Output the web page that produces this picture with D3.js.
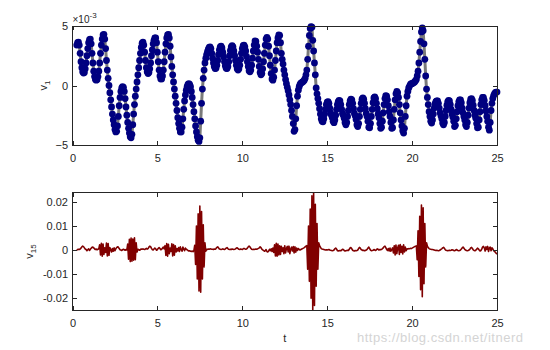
<!DOCTYPE html>
<html>
<head>
<meta charset="utf-8">
<script src="https://cdn.jsdelivr.net/npm/d3@7"></script>
<style>
  body { margin: 0; background: #fff; }
  svg { display: block; }
  text { font-family: "Liberation Sans", Arial, Helvetica, sans-serif; }
</style>
</head>
<body>
<svg id="chart" width="550" height="350"></svg>
<script>
// Sampling grid of the simulation output
const tStart = 0.25;
const tStep = 0.05;

// Tick values
const xTicks = [0, 5, 10, 15, 20, 25];
const v1Ticks = [-5, 0, 5];                 // in units of 10^-3
const v15Ticks = [-20, -10, 0, 10, 20];     // in units of 10^-3

// Node 1 response, units of 10^-3 (one row per unit of t)
const v1 = [
  3.4,3.6,3.65,3.4,2.7,2.0,1.5,1.15,1.05,1.1,1.4,1.9,2.5,3.1,3.6,3.85,3.9,3.5,2.7,1.9,
  1.2,0.75,0.5,0.45,0.5,0.75,1.2,1.9,2.7,3.4,3.9,4.25,4.3,3.9,3.1,2.1,1.3,0.6,0.0,-0.6,
  -1.2,-1.8,-2.4,-2.9,-3.3,-3.7,-3.9,-3.85,-3.4,-2.6,-1.7,-1.0,-0.5,-0.2,-0.1,-0.15,-0.5,-1.1,-1.8,-2.5,
  -3.1,-3.6,-4.0,-4.3,-4.4,-4.1,-3.3,-2.4,-1.6,-0.9,-0.3,0.3,0.9,1.5,2.1,2.7,3.2,3.55,3.65,3.4,
  2.8,2.1,1.5,1.15,1.0,1.1,1.4,1.9,2.5,3.0,3.5,3.8,4.0,4.0,3.6,2.8,2.0,1.3,0.8,0.55,
  0.55,0.8,1.3,2.0,2.8,3.5,4.0,4.25,4.3,4.0,3.3,2.4,1.6,0.9,0.3,-0.3,-0.9,-1.5,-2.1,-2.7,
  -3.2,-3.6,-3.9,-3.9,-3.5,-2.8,-2.0,-1.3,-0.8,-0.4,-0.1,0.1,0.15,0.1,-0.1,-0.5,-1.0,-1.6,-2.2,-2.8,
  -3.4,-3.9,-4.3,-4.6,-4.7,-4.4,-3.0,-1.5,-0.3,0.6,1.3,1.9,2.3,2.6,2.85,3.05,3.2,3.25,3.1,2.7,
  2.3,1.9,1.6,1.42,1.45,1.7,2.1,2.6,3.0,3.25,3.3,3.15,2.8,2.4,2.0,1.65,1.45,1.42,1.6,2.0,
  2.5,2.95,3.25,3.35,3.25,2.9,2.5,2.1,1.7,1.4,1.3,1.4,1.7,2.2,2.7,3.1,3.35,3.4,3.25,2.9,
  2.45,2.0,1.6,1.25,1.15,1.3,1.7,2.3,2.9,3.4,3.75,3.7,3.3,2.8,2.2,1.6,1.1,0.9,1.0,1.4,
  2.0,2.7,3.4,3.9,4.05,3.9,3.3,2.5,1.7,1.0,0.55,0.45,0.7,1.3,2.1,2.9,3.6,4.0,4.25,4.2,
  3.6,2.7,2.2,1.8,1.3,0.9,0.5,0.15,-0.15,-0.45,-0.8,-1.2,-1.6,-2.1,-2.6,-3.2,-3.85,-3.7,-2.8,-1.7,
  -0.9,-0.4,-0.1,0.1,0.2,0.25,0.3,0.35,0.45,0.6,0.9,1.3,2.2,3.3,4.2,4.8,4.95,4.9,3.8,2.9,
  1.9,0.9,-0.2,-0.7,-1.1,-1.5,-1.95,-2.4,-2.8,-3.0,-3.05,-2.8,-2.4,-2.0,-1.6,-1.4,-1.35,-1.5,-1.9,-2.3,
  -2.5,-2.7,-3.0,-3.12,-2.9,-2.5,-2.0,-1.6,-1.35,-1.25,-1.3,-1.6,-2.0,-2.35,-2.5,-2.75,-3.1,-3.3,-3.1,-2.6,
  -2.1,-1.6,-1.3,-1.15,-1.2,-1.5,-1.95,-2.35,-2.55,-2.85,-3.3,-3.45,-3.2,-2.6,-2.0,-1.5,-1.15,-1.05,-1.15,-1.5,
  -1.95,-2.35,-2.6,-3.0,-3.5,-3.55,-3.2,-2.6,-2.0,-1.45,-1.05,-0.95,-1.1,-1.5,-1.95,-2.4,-2.7,-3.2,-3.6,-3.5,
  -3.0,-2.3,-1.6,-1.1,-0.85,-0.9,-1.2,-1.7,-2.2,-2.6,-3.1,-3.6,-3.55,-2.9,-2.0,-1.2,-0.7,-0.5,-0.6,-1.0,
  -1.6,-2.3,-2.9,-3.4,-3.8,-4.0,-3.6,-2.6,-1.7,-0.9,-0.5,-0.2,-0.05,0.1,0.15,0.15,0.2,0.25,0.3,0.4,
  0.5,0.8,1.2,1.9,2.8,3.7,4.5,4.85,4.6,3.5,2.2,0.8,-0.3,-1.0,-1.6,-2.2,-2.6,-3.0,-3.15,-2.9,
  -2.4,-1.9,-1.55,-1.35,-1.3,-1.3,-1.5,-1.9,-2.3,-2.55,-2.8,-3.15,-3.3,-3.1,-2.6,-2.1,-1.65,-1.35,-1.25,-1.3,
  -1.6,-2.0,-2.4,-2.65,-3.0,-3.45,-3.35,-2.8,-2.2,-1.7,-1.35,-1.2,-1.2,-1.45,-1.9,-2.3,-2.6,-2.9,-3.3,-3.45,
  -3.1,-2.5,-1.9,-1.45,-1.15,-1.1,-1.25,-1.65,-2.1,-2.5,-2.75,-3.2,-3.55,-3.5,-2.9,-2.2,-1.6,-1.2,-1.0,-1.0,
  -1.25,-1.7,-2.15,-2.6,-3.0,-3.5,-3.75,-3.1,-2.1,-1.5,-1.1,-0.85,-0.7,-0.6,-0.55,-0.55
];

// Node 15 response, units of 10^-3 (one row per unit of t)
const v15 = [
  0.0,0.2,0.3,0.2,0.4,0.8,1.3,1.6,1.4,0.9,0.4,0.2,-0.3,0.1,0.5,-0.2,0.3,0.7,1.1,1.2,
  0.9,0.5,0.2,0.4,0.1,0.3,0.6,2.2,-2.0,2.8,-2.6,2.5,-1.8,0.9,-1.0,2.9,-2.5,2.7,-2.2,1.0,
  0.3,-0.8,0.6,-0.5,0.9,-0.3,0.5,1.0,1.3,1.2,0.6,0.1,0.0,-0.2,0.1,0.3,0.1,-0.1,0.2,0.0,
  2.5,-3.8,4.5,-4.8,5.0,-4.6,4.6,-4.2,5.1,-4.0,3.0,-0.8,0.3,0.1,-0.1,0.2,0.4,0.3,0.5,0.3,
  0.2,0.5,0.7,0.4,0.6,1.2,1.6,1.4,0.7,0.2,0.0,0.4,0.8,0.5,-0.1,0.2,0.7,1.0,0.6,0.1,
  0.3,0.8,1.2,0.5,1.8,-2.2,2.7,-2.6,2.4,-1.5,0.8,-0.6,2.6,-2.5,2.3,-2.1,1.8,-0.8,0.6,-0.4,
  1.0,-0.6,1.3,0.2,-0.5,1.2,0.4,-0.3,0.8,0.3,0.1,-0.2,-0.4,-0.3,-0.5,-0.6,-0.4,-0.7,-0.2,2.0,
  -6.0,10.0,-12.0,15.0,-17.0,18.3,-17.5,16.0,-12.0,10.5,-7.0,3.0,-0.5,0.3,0.2,0.4,0.3,0.5,0.4,0.3,
  0.3,0.2,0.4,0.3,0.6,1.1,1.3,0.9,0.4,0.3,0.2,0.3,0.5,0.3,0.2,0.5,0.8,1.0,0.6,0.3,
  0.2,0.3,0.2,0.4,0.3,0.2,0.3,0.5,0.8,0.9,0.6,0.3,0.2,0.4,0.3,0.2,0.5,0.7,0.5,0.3,
  0.4,0.8,1.3,1.6,1.3,0.7,0.3,0.2,0.3,0.2,0.3,0.4,0.3,0.5,0.7,0.9,1.3,1.0,0.4,0.1,
  -0.2,-0.5,-0.3,0.2,-0.6,-0.8,-0.4,0.3,-0.3,0.5,-0.6,0.8,-1.0,2.2,-2.5,2.8,-2.6,2.5,-2.0,1.8,
  -1.8,1.5,-0.6,0.9,-1.5,1.8,-1.2,0.6,1.5,-0.8,1.6,-1.5,0.4,1.2,-0.4,1.4,-1.2,1.3,-0.9,0.8,
  -0.2,0.6,0.2,0.0,0.2,0.4,0.6,0.8,1.0,1.3,1.6,1.8,-8.0,10.0,-13.0,17.0,-20.0,22.5,-24.9,23.8,
  -23.0,19.0,-15.0,11.0,-8.0,3.0,1.8,1.2,0.6,0.4,0.3,0.2,0.1,0.0,0.1,0.0,0.1,0.2,0.0,-0.1,
  -0.2,-0.3,-0.2,0.0,0.5,0.8,0.4,-0.2,-0.4,-0.3,-0.2,-0.3,-0.1,0.3,0.2,-0.2,-0.4,-0.3,-0.2,-0.1,
  -0.2,0.3,0.9,1.0,0.5,-0.1,-0.3,-0.4,-0.2,-0.3,-0.2,0.0,0.6,1.1,0.8,0.2,0.0,-0.2,-0.1,-0.3,
  -0.2,0.0,0.3,0.8,1.2,0.6,0.0,-0.3,-0.2,-0.1,0.2,0.0,-0.2,0.1,0.5,0.3,0.0,0.2,0.1,0.3,
  0.5,0.9,1.4,1.6,1.0,0.3,-0.2,0.6,-0.4,0.8,-0.5,0.2,0.9,-1.2,1.8,-2.0,2.1,-1.5,0.8,2.0,
  -1.8,2.3,-1.0,1.5,-1.6,2.2,-0.8,1.2,-0.3,0.5,0.4,0.6,0.5,0.7,0.6,0.8,1.0,1.2,1.4,1.6,
  1.7,-4.0,8.0,-11.0,14.0,-16.5,18.7,-19.4,17.5,-14.0,11.0,-7.0,3.0,1.6,1.0,0.6,0.4,0.3,0.2,0.2,
  0.1,0.0,-0.1,-0.2,-0.1,-0.2,-0.3,-0.2,0.0,0.3,0.5,0.9,1.1,0.7,0.2,-0.1,-0.2,-0.3,-0.2,-0.1,
  -0.2,-0.1,0.1,0.0,-0.2,-0.3,-0.1,0.2,0.0,-0.2,-0.3,-0.2,0.0,0.4,0.9,1.2,0.8,0.3,0.0,-0.2,
  -0.3,-0.2,0.0,0.3,0.9,1.1,0.6,0.1,-0.2,-0.3,-0.1,0.3,0.8,0.5,0.0,-0.4,-0.2,0.4,1.2,1.5,
  0.9,-0.4,1.3,0.2,1.5,-0.6,0.8,1.2,-0.3,0.9,0.5,-0.2,-0.6,-0.9,-1.3,-1.7
];

const svg = d3.select("#chart");
const axisColor = "#262626";

const x = d3.scaleLinear().domain([0, 25]).range([72.5, 497]);
const yTop = d3.scaleLinear().domain([-5, 5]).range([145, 26]);
const yBot = d3.scaleLinear().domain([-24.9, 23.8]).range([310, 192.7]);

const series1 = v1.map((v, i) => ({ t: tStart + i * tStep, v }));
const series15 = v15.map((v, i) => ({ t: tStart + i * tStep, v }));

function panel(id, y, yTicks, yFmt) {
  const g = svg.append("g");
  const [x0, x1] = x.range();
  const [yb, yt] = y.range();
  svg.append("clipPath").attr("id", id)
    .append("rect").attr("x", x0).attr("y", yt).attr("width", x1 - x0).attr("height", yb - yt);

  const data = g.append("g");

  // box
  g.append("rect").attr("x", x0).attr("y", yt).attr("width", x1 - x0).attr("height", yb - yt)
    .attr("fill", "none").attr("stroke", axisColor).attr("stroke-width", 1)
    .attr("shape-rendering", "crispEdges");

  const style = sel => {
    sel.select(".domain").remove();
    sel.selectAll("line").attr("stroke", axisColor).attr("shape-rendering", "crispEdges");
    sel.selectAll("text").attr("fill", axisColor).style("font-size", "11px")
      .style("font-family", '"Liberation Sans", Arial, sans-serif');
  };

  g.append("g").attr("transform", `translate(0,${yb})`)
    .call(d3.axisBottom(x).tickValues(xTicks).tickSizeInner(-4).tickSizeOuter(0).tickPadding(9).tickFormat(d3.format("d")))
    .call(style);
  g.append("g").attr("transform", `translate(0,${yt})`)
    .call(d3.axisTop(x).tickValues(xTicks).tickSizeInner(-4).tickSizeOuter(0).tickFormat(""))
    .call(style);
  g.append("g").attr("transform", `translate(${x0},0)`)
    .call(d3.axisLeft(y).tickValues(yTicks).tickSizeInner(-4).tickSizeOuter(0).tickPadding(4.5).tickFormat(yFmt))
    .call(style);
  g.append("g").attr("transform", `translate(${x1},0)`)
    .call(d3.axisRight(y).tickValues(yTicks).tickSizeInner(-4).tickSizeOuter(0).tickFormat(""))
    .call(style);
  return data;
}

// Top panel: v_1 with markers
const d1 = panel("clipTop", yTop, v1Ticks, d => d3.format("d")(d));
const line1 = d3.line().x(d => x(d.t)).y(d => yTop(d.v));
d1.append("path").datum(series1)
  .attr("d", line1).attr("fill", "none")
  .attr("stroke", "#7a7a7a").attr("stroke-width", 3).attr("stroke-linejoin", "round");
d1.append("g").selectAll("circle").data(series1).join("circle")
  .attr("cx", d => x(d.t)).attr("cy", d => yTop(d.v)).attr("r", 3.4)
  .attr("fill", "#000080");

// Bottom panel: v_15 (tick labels shown in plain units)
const fmt15 = d => d === 0 ? "0" : String(+(d / 1000).toFixed(2));
const d2 = panel("clipBot", yBot, v15Ticks, fmt15);
const line15 = d3.line().x(d => x(d.t)).y(d => yBot(d.v));
d2.attr("clip-path", "url(#clipBot)");
d2.append("path").datum(series15)
  .attr("d", line15).attr("fill", "none")
  .attr("stroke", "#800000").attr("stroke-width", 1.6).attr("stroke-linejoin", "round");

// Exponent label of the top y axis
const ex = svg.append("text").attr("x", 72.5).attr("y", 23).attr("fill", axisColor).style("font-size", "10px");
ex.append("tspan").text("\u00d710");
ex.append("tspan").attr("dy", -5).style("font-size", "8px").text("-3");

// Axis titles
const yl1 = svg.append("text").attr("transform", "translate(47,85.5) rotate(-90)")
  .attr("text-anchor", "middle").attr("fill", axisColor).style("font-size", "11px");
yl1.append("tspan").text("v");
yl1.append("tspan").attr("dy", 3).style("font-size", "8px").text("1");

const yl2 = svg.append("text").attr("transform", "translate(33,251.5) rotate(-90)")
  .attr("text-anchor", "middle").attr("fill", axisColor).style("font-size", "11px");
yl2.append("tspan").text("v");
yl2.append("tspan").attr("dy", 3).style("font-size", "8px").text("15");

svg.append("text").attr("x", 284.8).attr("y", 342).attr("text-anchor", "middle")
  .attr("fill", axisColor).style("font-size", "11px").text("t");

// Blog watermark
svg.append("text").attr("x", 357).attr("y", 341.5).attr("fill", "#d4d4d4")
  .style("font-size", "13px").style("letter-spacing", "0.5px")
  .text("https://blog.csdn.net/itnerd");
</script>
</body>
</html>
